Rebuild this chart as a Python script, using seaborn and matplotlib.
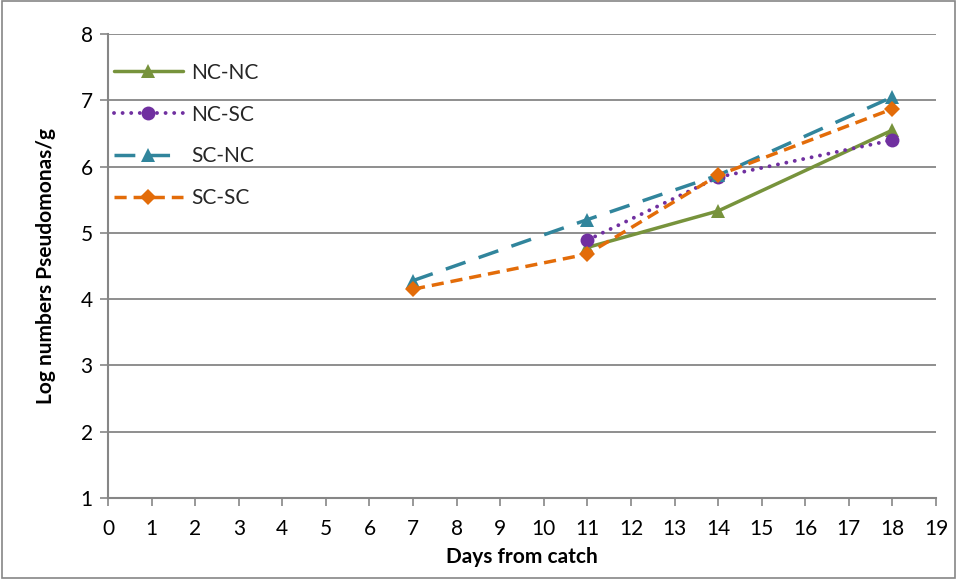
import matplotlib
matplotlib.use("Agg")
import matplotlib.pyplot as plt
import seaborn as sns
import pandas as pd

# Days after catch and log counts for each storage treatment
days_nc_nc = [11, 14, 18]
nc_nc = [4.78, 5.33, 6.55]
days_nc_sc = [11, 14, 18]
nc_sc = [4.89, 5.84, 6.40]
days_sc_nc = [7, 11, 14, 18]
sc_nc = [4.28, 5.20, 5.87, 7.05]
days_sc_sc = [7, 11, 14, 18]
sc_sc = [4.15, 4.68, 5.87, 6.87]

series_names = ["NC-NC", "NC-SC", "SC-NC", "SC-SC"]
x_ticks = list(range(0, 20))
y_ticks = list(range(1, 9))

sns.set_theme(style="white")
plt.rcParams["font.family"] = ["Lato", "DejaVu Sans"]

fig = plt.figure(figsize=(9.57, 5.79), dpi=100)
ax = fig.add_axes([108 / 957, 1 - 498 / 579, (936 - 108) / 957, (498 - 34) / 579])

styles = [
    dict(color="#77933C", marker="^", linestyle="-", dashes=None),
    dict(color="#7030A0", marker="o", linestyle=":", dashes=(1, 1.6)),
    dict(color="#31859C", marker="^", linestyle="--", dashes=(6, 4)),
    dict(color="#E36C09", marker="D", linestyle="--", dashes=(3.5, 2)),
]
data = [(days_nc_nc, nc_nc), (days_nc_sc, nc_sc), (days_sc_nc, sc_nc), (days_sc_sc, sc_sc)]

for name, (xs, ys), st in zip(series_names, data, styles):
    df = pd.DataFrame({"day": xs, "val": ys})
    ms = 8 if st["marker"] == "D" else 10
    sns.lineplot(data=df, x="day", y="val", ax=ax, color=st["color"],
                 marker=st["marker"], markersize=ms, markeredgewidth=0,
                 linewidth=2.5, label=name)
    l = ax.get_lines()[-1]
    if st["dashes"] is not None:
        l.set_dashes(st["dashes"])
    if st["linestyle"] == ":":
        l.set_dash_capstyle("round")
        l.set_dashes((0.01, 2.2))
        l.set_linewidth(2.8)

ax.set_xlim(0, 19)
ax.set_ylim(1, 8)
ax.set_xticks(x_ticks)
ax.set_yticks(y_ticks)
ax.tick_params(axis="both", labelsize=15, length=6, width=1.2, color="#868686",
               labelcolor="black", direction="out", bottom=True, left=True, pad=5)
ax.tick_params(axis="x", pad=9)
ax.yaxis.grid(True, color="#868686", linewidth=1.3)
ax.xaxis.grid(False)
for side in ["top", "right"]:
    ax.spines[side].set_visible(False)
for side in ["left", "bottom"]:
    ax.spines[side].set_color("#868686")
    ax.spines[side].set_linewidth(1.5)

ax.set_xlabel("Days from catch", fontsize=15, fontweight="bold", labelpad=6, color="black")
ax.set_ylabel("Log numbers Pseudomonas/g", fontsize=15, fontweight="bold", labelpad=18,
              color="black")

leg = ax.legend(loc="upper left", bbox_to_anchor=(-0.008, 0.965), frameon=False,
                fontsize=15, handlelength=3.3, labelspacing=1.05, handletextpad=0.4,
                borderaxespad=0.2)

# outer chart border
fig.patches.append(plt.Rectangle((0.002, 0.002), 0.996, 0.996, transform=fig.transFigure,
                                 fill=False, edgecolor="#868686", linewidth=1.2))

fig.savefig("out.png", dpi=100)
